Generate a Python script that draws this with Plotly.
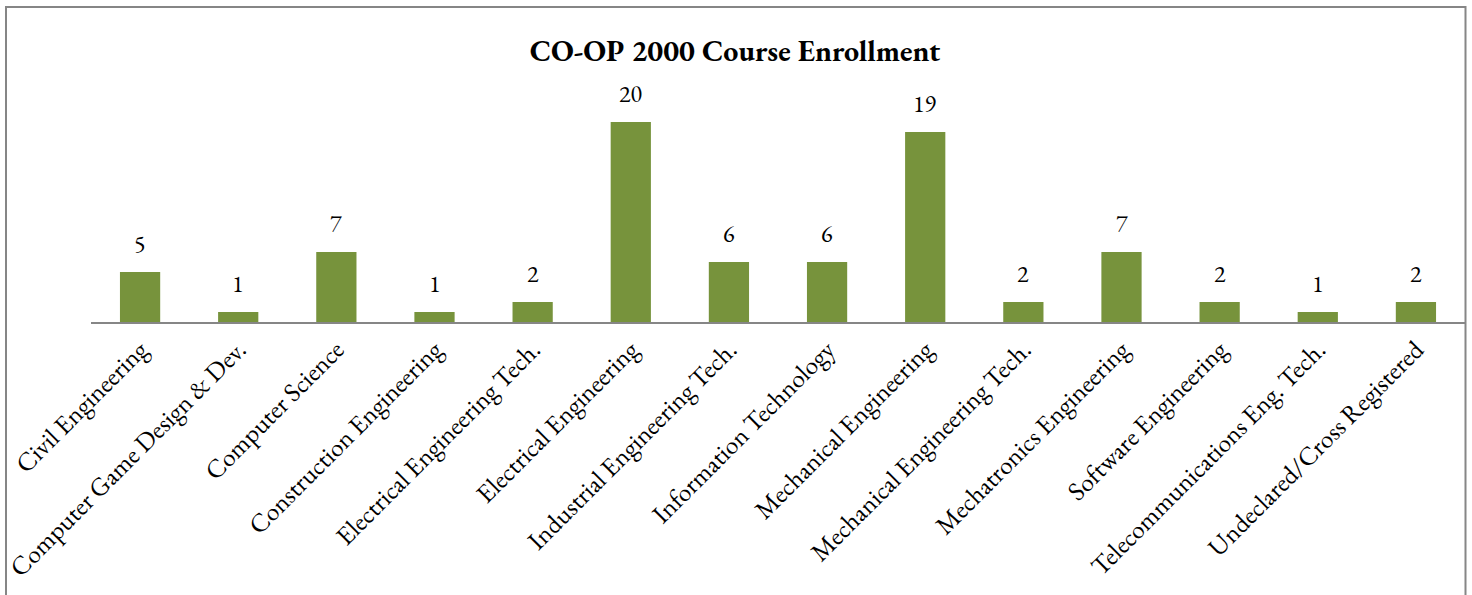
import plotly.graph_objects as go

categories = [
    "Civil Engineering",
    "Computer Game Design & Dev.",
    "Computer Science",
    "Construction Engineering",
    "Electrical Engineering Tech.",
    "Electrical Engineering",
    "Industrial Engineering Tech.",
    "Information Technology",
    "Mechanical Engineering",
    "Mechanical Engineering Tech.",
    "Mechatronics Engineering",
    "Software Engineering",
    "Telecommunications Eng. Tech.",
    "Undeclared/Cross Registered",
]
enrollment = [5, 1, 7, 1, 2, 20, 6, 6, 19, 2, 7, 2, 1, 2]
title_text = "CO-OP 2000 Course Enrollment"

W, H = 1472, 595
L, R, T, B = 91, 7, 72, 273
plot_w = W - L - R
plot_h = H - T - B

serif = "EB Garamond, Garamond, Liberation Serif, serif"

fig = go.Figure()
fig.add_trace(go.Bar(
    x=categories, y=enrollment,
    marker=dict(color="#77933C", line=dict(width=0)),
    width=0.41,
    hoverinfo="x+y",
))

for c, v in zip(categories, enrollment):
    fig.add_annotation(x=c, y=v, text=str(v), showarrow=False,
                       yanchor="bottom", yshift=11,
                       font=dict(family=serif, size=24, color="#000000"))

def px_to_paper_x(px):
    return (px - L) / plot_w

def px_to_paper_y(py):
    return (H - B - py) / plot_h

fig.add_shape(type="rect", xref="paper", yref="paper",
              x0=px_to_paper_x(6), x1=px_to_paper_x(1465.5),
              y0=px_to_paper_y(610), y1=px_to_paper_y(7),
              line=dict(color="#868686", width=2), fillcolor="rgba(0,0,0,0)",
              layer="below")

fig.update_layout(
    width=W, height=H,
    margin=dict(l=L, r=R, t=T, b=B, pad=0),
    paper_bgcolor="white", plot_bgcolor="white",
    title=dict(text=f"<b>{title_text}</b>", x=735 / W, xanchor="center",
               y=1 - 50 / H, yanchor="middle", xref="container", yref="container",
               font=dict(family=serif, size=30, color="#000000")),
    showlegend=False,
    bargap=0.59,
    xaxis=dict(showline=True, linecolor="#868686", linewidth=2,
               ticks="", tickangle=-45, showgrid=False, zeroline=False,
               tickfont=dict(family=serif, size=26, color="#000000"),
               automargin=False),
    yaxis=dict(range=[0, 25], visible=False, showgrid=False, zeroline=False,
               automargin=False),
)

fig.write_html("out.html",
               config={"displayModeBar": False},
               post_script="document.body.style.margin='0';document.body.style.overflow='hidden';")
